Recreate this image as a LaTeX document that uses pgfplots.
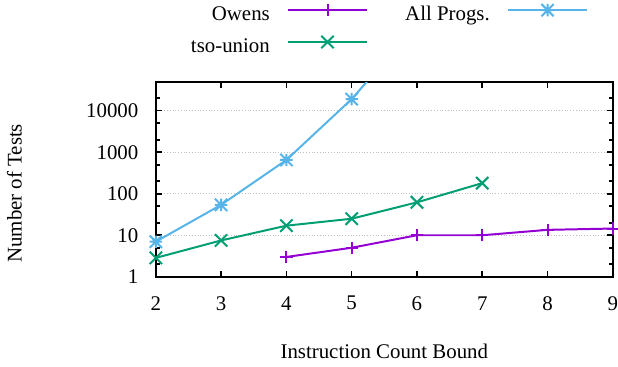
\documentclass[border=0pt]{standalone}
\usepackage{pgfplots}
\pgfplotsset{compat=1.18}
\usepackage{fontspec}
\setmainfont{Liberation Serif}
\definecolor{cOwens}{HTML}{9400D3}
\definecolor{cTso}{HTML}{009E73}
\definecolor{cAll}{HTML}{56B4E9}
\pgfdeclareplotmark{gpplus}{%
  \pgfpathmoveto{\pgfqpoint{-\pgfplotmarksize}{0pt}}\pgfpathlineto{\pgfqpoint{\pgfplotmarksize}{0pt}}%
  \pgfpathmoveto{\pgfqpoint{0pt}{-\pgfplotmarksize}}\pgfpathlineto{\pgfqpoint{0pt}{\pgfplotmarksize}}%
  \pgfusepathqstroke}
\pgfdeclareplotmark{gpcross}{%
  \pgfpathmoveto{\pgfqpoint{-\pgfplotmarksize}{-\pgfplotmarksize}}\pgfpathlineto{\pgfqpoint{\pgfplotmarksize}{\pgfplotmarksize}}%
  \pgfpathmoveto{\pgfqpoint{-\pgfplotmarksize}{\pgfplotmarksize}}\pgfpathlineto{\pgfqpoint{\pgfplotmarksize}{-\pgfplotmarksize}}%
  \pgfusepathqstroke}
\pgfdeclareplotmark{gpstar}{%
  \pgfpathmoveto{\pgfqpoint{-\pgfplotmarksize}{0pt}}\pgfpathlineto{\pgfqpoint{\pgfplotmarksize}{0pt}}%
  \pgfpathmoveto{\pgfqpoint{0pt}{-\pgfplotmarksize}}\pgfpathlineto{\pgfqpoint{0pt}{\pgfplotmarksize}}%
  \pgfpathmoveto{\pgfqpoint{-\pgfplotmarksize}{-\pgfplotmarksize}}\pgfpathlineto{\pgfqpoint{\pgfplotmarksize}{\pgfplotmarksize}}%
  \pgfpathmoveto{\pgfqpoint{-\pgfplotmarksize}{\pgfplotmarksize}}\pgfpathlineto{\pgfqpoint{\pgfplotmarksize}{-\pgfplotmarksize}}%
  \pgfusepathqstroke}
\begin{document}
\fontsize{10.5}{12.6}\selectfont
\begin{tikzpicture}
\begin{axis}[
  scale only axis, width=230pt, height=98pt,
  ymode=log, log basis y=10,
  xmin=2, xmax=9, ymin=1, ymax=48900,
  xtick={2,3,4,5,6,7,8,9},
  xticklabels={2,3,4,5,6,7,8,9},
  ytick={1,10,100,1000,10000},
  yticklabels={1,10,100,1000,10000},
  minor ytick={2,5,20,50,200,500,2000,5000,20000},
  /pgf/number format/assume math mode=true,
  ymajorgrids, grid style={densely dotted, gray!50, line width=0.5pt},
  axis line style={line width=1pt},
  major tick length=3pt, minor tick length=2pt,
  every tick/.style={black, line width=0.8pt},
  tick label style={font=\fontsize{10.5}{12.6}\selectfont},
  xticklabel style={anchor=center, inner sep=0pt, yshift=-13.3pt},
  yticklabel style={anchor=east, inner sep=0pt, xshift=-8.6pt},
  xlabel={Instruction Count Bound}, ylabel={Number of Tests},
  label style={font=\fontsize{10.5}{12.6}\selectfont},
  xlabel style={at={(axis description cs:0.5,-0.385)}, anchor=center},
  ylabel style={at={(axis description cs:-0.3095,0.4286)}, anchor=center},
  legend columns=2,
  legend plot pos=right,
  legend cell align=right,
  legend image code/.code={\draw[mark repeat=2,mark phase=2,yshift=2.5pt] plot coordinates {(0pt,0pt) (19.75pt,0pt) (39.5pt,0pt)};},
  legend style={draw=none, fill=none, inner xsep=0pt, inner ysep=2pt,
    font=\fontsize{10.5}{12.6}\selectfont,
    nodes={inner sep=0pt},
    column sep=8.8pt, row sep=6pt,
    /tikz/every even column/.append style={column sep=18.85pt},
    at={(axis description cs:0.0761,1.4235)}, anchor=north west},
]
\addplot[cOwens, line width=1pt, mark=gpplus, mark size=3.1pt, mark options={solid, overlay}] coordinates {
  (4,3) (5,5) (6,10) (7,10) (8,13.5) (9,14.5)
};
\addlegendentry{Owens}
\addplot[cAll, line width=1pt, mark=gpstar, mark size=3.1pt, mark options={solid}] coordinates {
  (2,7) (3,54) (4,650) (5,19000) (6,1200000)
};
\addlegendentry{All Progs.}
\addplot[cTso, line width=1pt, mark=gpcross, mark size=3.1pt, mark options={solid}] coordinates {
  (2,2.85) (3,7.5) (4,17) (5,25) (6,62) (7,180)
};
\addlegendentry{tso-union}
\end{axis}
\end{tikzpicture}
\end{document}
